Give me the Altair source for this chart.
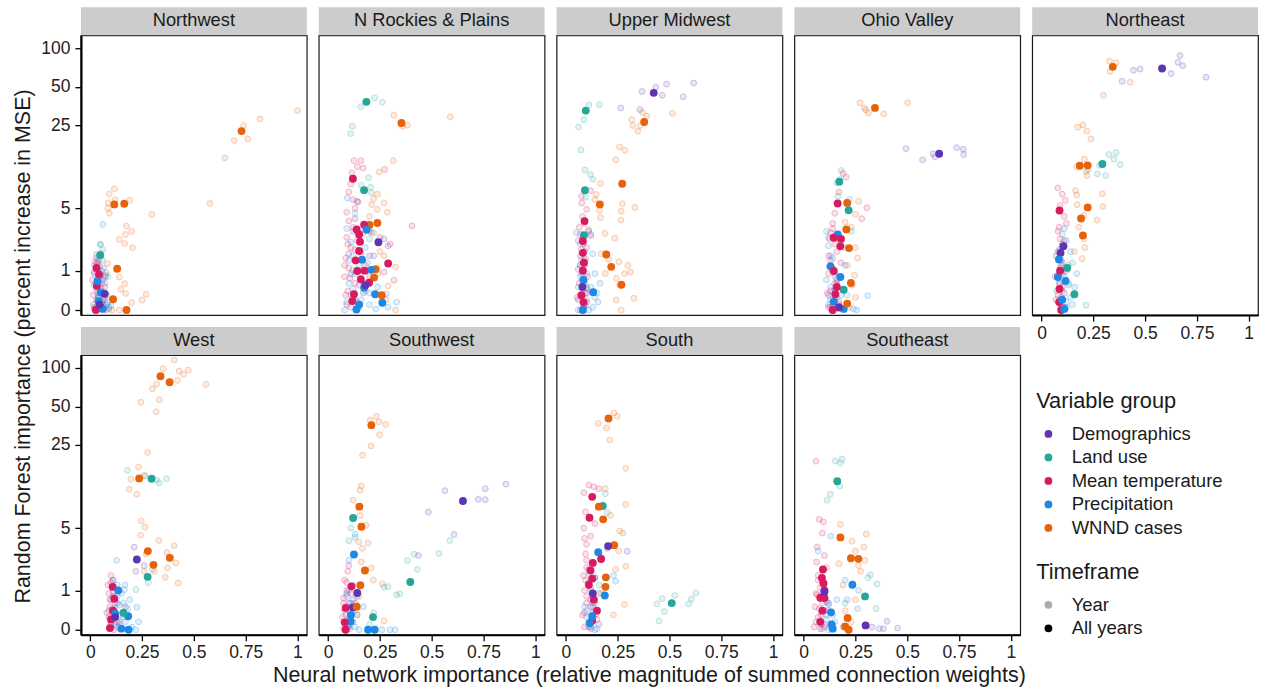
import altair as alt
import pandas as pd

GROUP_NAMES = {"D": "Demographics", "L": "Land use", "T": "Mean temperature",
               "P": "Precipitation", "W": "WNND cases"}
GROUPS = ["Demographics", "Land use", "Mean temperature", "Precipitation", "WNND cases"]
COLORS = ["#5E35B1", "#26A69A", "#D81B60", "#1E88E5", "#E8620C"]
REGIONS = ["Northwest", "N Rockies & Plains", "Upper Midwest", "Ohio Valley", "Northeast",
           "West", "Southwest", "South", "Southeast"]
TIMEFRAMES = ["Year", "All years"]
X_TICKS = [0, 0.25, 0.5, 0.75, 1]
Y_TICKS = [0, 1, 5, 25, 50, 100]
X_TITLE = "Neural network importance (relative magnitude of summed connection weights)"
Y_TITLE = "Random Forest importance (percent increase in MSE)"

# ---------------- Northwest ----------------
NW_ALL = [("W", 0.73, 22.4), ("W", 0.116, 5.43), ("W", 0.164, 5.5), ("W", 0.13, 1.07),
          ("W", 0.11, 0.21), ("W", 0.175, 0.0), ("L", 0.048, 1.63), ("T", 0.03, 1.1),
          ("T", 0.042, 0.87), ("T", 0.032, 0.53), ("T", 0.027, 0.0), ("T", 0.05, 0.05),
          ("P", 0.035, 0.67), ("P", 0.05, 0.36), ("P", 0.04, 0.17), ("P", 0.06, 0.02),
          ("D", 0.07, 0.33), ("D", 0.045, 0.1)]
NW_YEAR = [("W", 1.0, 32.6), ("W", 0.82, 28), ("W", 0.74, 24.8), ("W", 0.76, 19.4),
           ("W", 0.695, 18.8), ("W", 0.65, 13.6), ("W", 0.577, 5.54), ("W", 0.297, 4.39),
           ("W", 0.117, 7.47), ("W", 0.092, 6.75), ("W", 0.087, 5.6), ("W", 0.12, 6.0),
           ("W", 0.19, 5.9), ("W", 0.085, 5.0), ("W", 0.092, 4.5), ("W", 0.175, 3.39),
           ("W", 0.2, 3.0), ("W", 0.17, 2.79), ("W", 0.14, 2.47), ("W", 0.166, 2.23),
           ("W", 0.204, 2.0), ("W", 0.084, 1.27), ("W", 0.14, 0.79), ("W", 0.166, 0.59),
           ("W", 0.148, 0.44), ("W", 0.17, 0.34), ("W", 0.27, 0.32), ("W", 0.25, 0.19),
           ("W", 0.2, 0.14), ("W", 0.14, 0.0), ("W", 0.105, 0.0), ("W", 0.077, 0.93),
           ("P", 0.061, 3.52), ("P", 0.048, 2.18), ("P", 0.03, 1.66), ("P", 0.02, 1.2),
           ("P", 0.06, 1.4), ("P", 0.045, 0.9), ("P", 0.07, 0.6), ("P", 0.03, 0.45),
           ("P", 0.08, 0.3), ("P", 0.055, 0.15), ("P", 0.02, 0.05), ("P", 0.09, 0.02),
           ("P", 0.04, 0.75), ("P", 0.065, 1.1), ("P", 0.1, 0.08),
           ("L", 0.05, 2.18), ("L", 0.06, 1.9), ("L", 0.035, 1.3), ("L", 0.085, 0.8),
           ("L", 0.09, 0.05), ("L", 0.07, 0.2), ("L", 0.025, 0.6),
           ("T", 0.03, 1.5), ("T", 0.02, 0.95), ("T", 0.05, 0.8), ("T", 0.015, 0.3),
           ("T", 0.04, 0.25), ("T", 0.06, 0.1), ("T", 0.02, 0.02), ("T", 0.07, 0.5),
           ("T", 0.035, 1.25),
           ("D", 0.04, 1.4), ("D", 0.06, 0.7), ("D", 0.05, 0.45), ("D", 0.03, 0.2),
           ("D", 0.08, 0.1), ("D", 0.055, 1.0)]
NW_CLUSTER = [("T", 0.025, 1.35), ("T", 0.045, 1.15), ("T", 0.01, 0.7), ("T", 0.055, 0.6),
              ("T", 0.035, 0.35), ("T", 0.06, 0.2), ("T", 0.015, 0.1), ("T", 0.045, 0.02),
              ("T", 0.075, 0.0), ("P", 0.05, 1.7), ("P", 0.035, 1.05), ("P", 0.075, 0.85),
              ("P", 0.02, 0.55), ("P", 0.06, 0.4), ("P", 0.04, 0.28), ("P", 0.085, 0.15),
              ("P", 0.03, 0.0), ("P", 0.07, 0.05), ("D", 0.02, 0.9), ("D", 0.07, 0.8),
              ("D", 0.04, 0.6), ("D", 0.065, 0.25), ("D", 0.03, 0.05)]

# ---------------- N Rockies & Plains ----------------
NR_ALL = [("L", 0.185, 38.2), ("W", 0.354, 26), ("T", 0.12, 9.1), ("L", 0.174, 7.27),
          ("W", 0.238, 3.63), ("W", 0.2, 3.47), ("T", 0.174, 3.5), ("T", 0.138, 3.14),
          ("P", 0.186, 3.12), ("T", 0.15, 2.79), ("T", 0.154, 2.33), ("D", 0.243, 2.3),
          ("T", 0.15, 1.83), ("T", 0.29, 1.27), ("P", 0.164, 1.43), ("T", 0.133, 1.4),
          ("W", 0.23, 1.05), ("T", 0.141, 0.99), ("T", 0.177, 1.0), ("P", 0.209, 1.03),
          ("W", 0.222, 0.77), ("T", 0.158, 0.72), ("T", 0.198, 0.62), ("P", 0.174, 0.48),
          ("P", 0.227, 0.32), ("W", 0.259, 0.30), ("P", 0.262, 0.138), ("T", 0.125, 0.32),
          ("T", 0.117, 0.17), ("P", 0.137, 0.01), ("P", 0.15, 0.1), ("D", 0.18, 0.55)]
NR_YEAR = [("L", 0.225, 41), ("L", 0.262, 38), ("L", 0.158, 35), ("L", 0.117, 24.5),
           ("L", 0.109, 21.4), ("L", 0.196, 9.3), ("L", 0.206, 7.7), ("L", 0.209, 6.9),
           ("L", 0.16, 8.0), ("L", 0.13, 4.5), ("L", 0.2, 2.5), ("L", 0.12, 1.0), ("L", 0.18, 0.4),
           ("W", 0.318, 30), ("W", 0.383, 25), ("W", 0.36, 24.5), ("W", 0.59, 29.1),
           ("W", 0.315, 12.9), ("W", 0.246, 10.4), ("W", 0.238, 6.7), ("W", 0.219, 6.1),
           ("W", 0.27, 5.6), ("W", 0.21, 5.4), ("W", 0.238, 4.9), ("W", 0.286, 4.6),
           ("W", 0.2, 4.2), ("W", 0.326, 1.13), ("W", 0.29, 0.53), ("W", 0.326, 0.0),
           ("W", 0.25, 1.8), ("W", 0.22, 2.9), ("W", 0.27, 1.6), ("W", 0.24, 0.9),
           ("W", 0.28, 0.2), ("W", 0.2, 0.6),
           ("T", 0.125, 12.9), ("T", 0.158, 12.9), ("T", 0.141, 11.5), ("T", 0.115, 10.2),
           ("T", 0.169, 11.2), ("T", 0.273, 10.9), ("T", 0.109, 8.2), ("T", 0.12, 6.0),
           ("T", 0.145, 5.7), ("T", 0.405, 3.4), ("T", 0.3, 2.2), ("T", 0.318, 0.69),
           ("T", 0.1, 3.8), ("T", 0.09, 2.6), ("T", 0.11, 2.0), ("T", 0.085, 1.5),
           ("T", 0.1, 1.1), ("T", 0.08, 0.8), ("T", 0.13, 0.6), ("T", 0.095, 0.4),
           ("T", 0.12, 0.25), ("T", 0.09, 0.1), ("T", 0.14, 2.4), ("T", 0.16, 1.7),
           ("T", 0.2, 3.0), ("T", 0.25, 2.6), ("T", 0.27, 0.95),
           ("P", 0.093, 6.2), ("P", 0.21, 2.9), ("P", 0.28, 0.33), ("P", 0.331, 0.15),
           ("P", 0.29, 0.05), ("P", 0.08, 0.0), ("P", 0.11, 0.3), ("P", 0.13, 0.9),
           ("P", 0.1, 0.6), ("P", 0.16, 0.2), ("P", 0.2, 0.1), ("P", 0.12, 1.6),
           ("P", 0.15, 0.05), ("P", 0.24, 0.5), ("P", 0.19, 1.3),
           ("D", 0.14, 5.8), ("D", 0.13, 4.0), ("D", 0.27, 2.5), ("D", 0.29, 2.1),
           ("D", 0.22, 1.6), ("D", 0.11, 0.9), ("D", 0.17, 0.35)]
NR_CLUSTER = [("T", 0.1, 7.0), ("T", 0.13, 5.0), ("T", 0.09, 4.6), ("T", 0.12, 3.3),
              ("T", 0.17, 2.9), ("T", 0.095, 2.2), ("T", 0.13, 1.9), ("T", 0.08, 1.2),
              ("T", 0.105, 0.75), ("T", 0.15, 0.55), ("T", 0.085, 0.3), ("T", 0.11, 0.05),
              ("T", 0.14, 0.15), ("T", 0.18, 1.2), ("T", 0.2, 0.8),
              ("P", 0.09, 3.2), ("P", 0.11, 2.3), ("P", 0.15, 1.2), ("P", 0.12, 0.45),
              ("P", 0.17, 0.6), ("P", 0.14, 0.02), ("P", 0.09, 0.15), ("P", 0.2, 0.35),
              ("P", 0.23, 0.02), ("P", 0.1, 1.4), ("P", 0.18, 2.0),
              ("D", 0.12, 3.0), ("D", 0.1, 1.7), ("D", 0.16, 1.0), ("D", 0.13, 0.2),
              ("D", 0.2, 1.6)]

# ---------------- Upper Midwest ----------------
UM_ALL = [("D", 0.424, 44.9), ("L", 0.096, 32.6), ("W", 0.378, 26.5), ("L", 0.092, 7.27),
          ("W", 0.272, 8.25), ("W", 0.164, 5.43), ("T", 0.09, 3.79), ("L", 0.087, 2.74),
          ("T", 0.082, 2.37), ("T", 0.082, 1.74), ("T", 0.087, 1.3), ("W", 0.195, 1.66),
          ("W", 0.219, 1.14), ("W", 0.268, 0.56), ("T", 0.082, 1.0), ("P", 0.132, 0.37),
          ("T", 0.075, 0.3), ("T", 0.085, 0.15), ("P", 0.082, 0.0), ("P", 0.085, 0.7),
          ("D", 0.08, 0.5)]
UM_YEAR = [("D", 0.368, 46), ("D", 0.486, 52.5), ("D", 0.617, 53.6), ("D", 0.434, 49.9),
           ("D", 0.465, 43), ("D", 0.566, 41.8), ("D", 0.265, 34.2), ("D", 0.357, 33.2),
           ("D", 0.07, 1.2), ("D", 0.09, 0.6), ("D", 0.06, 0.2),
           ("L", 0.111, 36.1), ("L", 0.162, 36.3), ("L", 0.087, 27.6), ("L", 0.061, 24.1),
           ("L", 0.072, 15.8), ("L", 0.092, 10.8), ("L", 0.119, 9.9), ("L", 0.13, 9.0),
           ("L", 0.095, 6.3), ("L", 0.11, 3.0), ("L", 0.075, 1.4), ("L", 0.1, 0.5),
           ("W", 0.37, 31.5), ("W", 0.39, 29.5), ("W", 0.514, 31), ("W", 0.318, 27.6),
           ("W", 0.323, 24.8), ("W", 0.36, 24.8), ("W", 0.347, 22.4), ("W", 0.259, 16.7),
           ("W", 0.285, 15.7), ("W", 0.241, 13.1), ("W", 0.167, 8.3), ("W", 0.146, 6.66),
           ("W", 0.14, 6.0), ("W", 0.162, 4.8), ("W", 0.273, 5.5), ("W", 0.267, 4.7),
           ("W", 0.333, 5.1), ("W", 0.167, 4.1), ("W", 0.265, 3.87), ("W", 0.188, 2.86),
           ("W", 0.236, 2.55), ("W", 0.17, 1.7), ("W", 0.207, 1.44), ("W", 0.256, 1.34),
           ("W", 0.299, 1.19), ("W", 0.312, 0.95), ("W", 0.283, 0.9), ("W", 0.19, 0.9),
           ("W", 0.244, 0.75), ("W", 0.26, 0.55), ("W", 0.328, 0.23), ("W", 0.243, 0.19),
           ("W", 0.267, 0.0),
           ("T", 0.119, 7.2), ("T", 0.075, 6.4), ("T", 0.077, 5.6), ("T", 0.1, 4.9),
           ("T", 0.065, 3.3), ("T", 0.11, 3.1), ("T", 0.06, 2.4), ("T", 0.1, 2.0),
           ("T", 0.07, 1.6), ("T", 0.095, 1.45), ("T", 0.06, 1.05), ("T", 0.105, 0.8),
           ("T", 0.065, 0.6), ("T", 0.1, 0.45), ("T", 0.055, 0.25), ("T", 0.09, 0.1),
           ("T", 0.07, 0.0), ("T", 0.12, 2.7),
           ("P", 0.05, 2.9), ("P", 0.12, 2.8), ("P", 0.13, 1.7), ("P", 0.07, 1.2),
           ("P", 0.14, 0.9), ("P", 0.165, 0.6), ("P", 0.15, 0.35), ("P", 0.06, 0.5),
           ("P", 0.1, 0.2), ("P", 0.13, 0.05), ("P", 0.06, 0.0), ("P", 0.11, 0.0),
           ("P", 0.155, 0.15)]
UM_CLUSTER = [("T", 0.08, 4.2), ("T", 0.09, 3.6), ("T", 0.07, 2.8), ("T", 0.085, 2.2),
              ("T", 0.075, 1.9), ("T", 0.09, 1.2), ("T", 0.08, 0.7), ("T", 0.095, 0.35),
              ("T", 0.085, 0.05), ("T", 0.1, 0.15),
              ("P", 0.07, 2.2), ("P", 0.09, 1.4), ("P", 0.1, 0.9), ("P", 0.12, 0.5),
              ("P", 0.08, 0.3), ("P", 0.095, 0.08), ("P", 0.14, 0.25), ("P", 0.07, 0.8),
              ("D", 0.08, 2.5), ("D", 0.09, 1.8), ("D", 0.075, 0.9), ("D", 0.1, 0.35),
              ("D", 0.085, 0.05)]

# ---------------- Ohio Valley ----------------
OV_ALL = [("W", 0.344, 34.2), ("D", 0.654, 14.7), ("L", 0.172, 8.6), ("T", 0.164, 5.54),
          ("W", 0.21, 5.6), ("L", 0.217, 4.8), ("W", 0.206, 3.14), ("P", 0.164, 2.79),
          ("T", 0.145, 2.57), ("T", 0.18, 2.5), ("T", 0.177, 2.07), ("W", 0.219, 1.98),
          ("P", 0.129, 1.16), ("T", 0.145, 0.99), ("P", 0.177, 0.79), ("W", 0.228, 0.61),
          ("L", 0.193, 0.43), ("T", 0.16, 0.5), ("T", 0.153, 0.32), ("P", 0.145, 0.16),
          ("P", 0.193, 0.02), ("D", 0.17, 0.05), ("T", 0.14, 0.0), ("W", 0.21, 0.12)]
OV_YEAR = [("W", 0.272, 37.5), ("W", 0.293, 34.2), ("W", 0.312, 31.2), ("W", 0.386, 30.7),
           ("W", 0.502, 37.5), ("W", 0.3, 33), ("W", 0.265, 5.8), ("W", 0.25, 4.4),
           ("W", 0.2, 3.7), ("W", 0.23, 3.3), ("W", 0.25, 2.0), ("W", 0.26, 1.5),
           ("W", 0.21, 1.2), ("W", 0.245, 0.85), ("W", 0.235, 0.55), ("W", 0.25, 0.25),
           ("W", 0.22, 0.05),
           ("D", 0.494, 16.2), ("D", 0.574, 13.1), ("D", 0.624, 14.7), ("D", 0.633, 13.9),
           ("D", 0.738, 16.5), ("D", 0.77, 16), ("D", 0.772, 14.5), ("D", 0.16, 0.6),
           ("D", 0.13, 0.2),
           ("L", 0.181, 10.7), ("L", 0.175, 9.0), ("L", 0.16, 8.4), ("L", 0.22, 6.0),
           ("L", 0.23, 3.0), ("L", 0.2, 2.0), ("L", 0.165, 6.4), ("L", 0.15, 0.9),
           ("L", 0.21, 0.3),
           ("T", 0.19, 10.1), ("T", 0.205, 9.4), ("T", 0.17, 7.0), ("T", 0.305, 5.06),
           ("T", 0.28, 4.0), ("T", 0.15, 4.5), ("T", 0.14, 3.2), ("T", 0.125, 2.5),
           ("T", 0.16, 1.8), ("T", 0.13, 1.4), ("T", 0.18, 1.3), ("T", 0.12, 0.9),
           ("T", 0.15, 0.6), ("T", 0.115, 0.35), ("T", 0.17, 0.15), ("T", 0.13, 0.05),
           ("P", 0.309, 0.29), ("P", 0.255, 0.0), ("P", 0.11, 3.0), ("P", 0.12, 2.1),
           ("P", 0.13, 1.6), ("P", 0.2, 1.2), ("P", 0.15, 0.45), ("P", 0.12, 0.1),
           ("P", 0.18, 0.3), ("P", 0.14, 1.0), ("P", 0.24, 0.02)]
OV_CLUSTER = [("T", 0.14, 3.6), ("T", 0.13, 2.9), ("T", 0.15, 2.2), ("T", 0.12, 1.6),
              ("T", 0.14, 1.1), ("T", 0.16, 0.7), ("T", 0.13, 0.4), ("T", 0.15, 0.2),
              ("T", 0.12, 0.05), ("T", 0.17, 0.1),
              ("P", 0.12, 2.6), ("P", 0.14, 1.5), ("P", 0.15, 0.8), ("P", 0.13, 0.5),
              ("P", 0.16, 0.25), ("P", 0.14, 0.05), ("P", 0.11, 0.7), ("P", 0.17, 0.02),
              ("D", 0.13, 1.2), ("D", 0.15, 0.4), ("D", 0.14, 0.1), ("D", 0.12, 0.3)]

# ---------------- Northeast ----------------
NE_ALL = [("W", 0.344, 71.6), ("D", 0.582, 69.5), ("W", 0.185, 11.7), ("W", 0.223, 11.8),
          ("L", 0.294, 12.1), ("T", 0.087, 4.78), ("W", 0.223, 5.1), ("W", 0.191, 4.02),
          ("W", 0.2, 2.72), ("D", 0.106, 2.08), ("D", 0.092, 1.74), ("P", 0.084, 1.44),
          ("L", 0.124, 1.1), ("P", 0.079, 0.79), ("P", 0.116, 0.67), ("T", 0.087, 0.45),
          ("L", 0.159, 0.32), ("T", 0.085, 0.15), ("T", 0.095, 0.0), ("P", 0.1, 0.2),
          ("P", 0.11, 0.02), ("T", 0.09, 1.0)]
NE_YEAR = [("W", 0.328, 79.5), ("W", 0.36, 77), ("W", 0.33, 66), ("W", 0.428, 54.4),
           ("W", 0.299, 43), ("W", 0.175, 24.1), ("W", 0.2, 25.1), ("W", 0.219, 22.4),
           ("W", 0.238, 19.4), ("W", 0.207, 13.3), ("W", 0.17, 11.5), ("W", 0.215, 10.5),
           ("W", 0.22, 9.7), ("W", 0.164, 7.2), ("W", 0.17, 6.6), ("W", 0.294, 6.75),
           ("W", 0.172, 5.4), ("W", 0.296, 5.2), ("W", 0.205, 4.3), ("W", 0.268, 3.87),
           ("W", 0.18, 3.3), ("W", 0.205, 2.5), ("W", 0.209, 2.0), ("W", 0.159, 1.8),
           ("W", 0.196, 1.47),
           ("D", 0.669, 87.6), ("D", 0.659, 77.6), ("D", 0.682, 73), ("D", 0.444, 67.4),
           ("D", 0.476, 68.8), ("D", 0.625, 63.5), ("D", 0.389, 55.3), ("D", 0.794, 59.5),
           ("D", 0.11, 2.4), ("D", 0.1, 1.3), ("D", 0.085, 0.6),
           ("L", 0.325, 14.5), ("L", 0.36, 15), ("L", 0.35, 13.3), ("L", 0.38, 12),
           ("L", 0.28, 11.8), ("L", 0.27, 10.0), ("L", 0.31, 9.7), ("L", 0.225, 10.9),
           ("L", 0.15, 1.3), ("L", 0.13, 0.55), ("L", 0.215, 0.09), ("L", 0.1, 2.8),
           ("T", 0.079, 7.6), ("T", 0.1, 6.7), ("T", 0.115, 5.9), ("T", 0.09, 5.3),
           ("T", 0.11, 4.2), ("T", 0.12, 3.6), ("T", 0.08, 3.0), ("T", 0.1, 2.2),
           ("T", 0.07, 1.6), ("T", 0.095, 1.2), ("T", 0.065, 0.8), ("T", 0.1, 0.5),
           ("T", 0.07, 0.2), ("T", 0.1, 0.05), ("T", 0.12, 1.0),
           ("P", 0.11, 3.2), ("P", 0.12, 2.4), ("P", 0.14, 1.8), ("P", 0.13, 1.2),
           ("P", 0.17, 0.9), ("P", 0.16, 0.5), ("P", 0.14, 0.25), ("P", 0.12, 0.05),
           ("P", 0.075, 0.4), ("P", 0.085, 1.9), ("P", 0.15, 0.1)]
NE_CLUSTER = [("T", 0.085, 3.3), ("T", 0.09, 2.5), ("T", 0.08, 1.8), ("T", 0.095, 1.4),
              ("T", 0.085, 0.95), ("T", 0.09, 0.6), ("T", 0.08, 0.3), ("T", 0.09, 0.1),
              ("T", 0.1, 0.0), ("T", 0.11, 0.35),
              ("P", 0.1, 2.0), ("P", 0.09, 1.1), ("P", 0.11, 0.8), ("P", 0.1, 0.4),
              ("P", 0.12, 0.15), ("P", 0.095, 0.02), ("P", 0.13, 0.6),
              ("D", 0.09, 1.6), ("D", 0.1, 0.9), ("D", 0.095, 0.25), ("D", 0.11, 0.05)]

# ---------------- West ----------------
WE_ALL = [("W", 0.339, 86.1), ("W", 0.383, 77.3), ("W", 0.236, 13.4), ("L", 0.296, 13.3),
          ("W", 0.278, 3.0), ("D", 0.225, 2.45), ("W", 0.384, 2.55), ("W", 0.305, 2.14),
          ("L", 0.277, 1.54), ("T", 0.108, 1.13), ("P", 0.135, 1.0), ("T", 0.116, 0.73),
          ("T", 0.11, 0.4), ("T", 0.1, 0.2), ("T", 0.095, 0.03), ("P", 0.12, 0.33),
          ("P", 0.183, 0.27), ("P", 0.185, 0.0), ("P", 0.15, 0.02), ("L", 0.16, 0.35),
          ("D", 0.12, 0.25)]
WE_YEAR = [("W", 0.405, 115), ("W", 0.352, 98.4), ("W", 0.429, 94.5), ("W", 0.473, 96),
           ("W", 0.45, 89), ("W", 0.421, 80), ("W", 0.558, 74.4), ("W", 0.32, 75),
           ("W", 0.3, 69), ("W", 0.334, 56.6), ("W", 0.244, 54), ("W", 0.318, 45.6),
           ("W", 0.277, 21.7), ("W", 0.233, 16.6), ("W", 0.196, 13.2), ("W", 0.26, 14.2),
           ("W", 0.188, 10.9), ("W", 0.225, 9.9), ("W", 0.246, 5.8), ("W", 0.264, 5.1),
           ("W", 0.243, 4.3), ("W", 0.331, 3.82), ("W", 0.405, 3.4), ("W", 0.27, 2.8),
           ("W", 0.37, 2.9), ("W", 0.413, 2.25), ("W", 0.373, 1.97), ("W", 0.362, 1.52),
           ("W", 0.424, 1.28), ("W", 0.26, 1.8), ("W", 0.31, 1.8),
           ("L", 0.18, 15.6), ("L", 0.265, 14.0), ("L", 0.333, 12.3), ("L", 0.368, 13.3),
           ("L", 0.32, 13.0), ("L", 0.22, 1.03), ("L", 0.28, 1.3), ("L", 0.3, 1.9),
           ("L", 0.16, 0.6), ("L", 0.14, 0.1),
           ("D", 0.212, 3.29), ("D", 0.26, 2.1), ("D", 0.22, 1.8), ("D", 0.17, 0.5),
           ("D", 0.14, 0.15),
           ("P", 0.127, 2.39), ("P", 0.167, 1.2), ("P", 0.165, 1.03), ("P", 0.225, 0.49),
           ("P", 0.233, 0.15), ("P", 0.22, 0.0), ("P", 0.1, 0.7), ("P", 0.14, 0.55),
           ("P", 0.12, 0.1), ("P", 0.2, 0.05), ("P", 0.16, 0.25), ("P", 0.09, 0.4),
           ("P", 0.15, 0.9), ("P", 0.19, 0.7), ("P", 0.13, 1.2),
           ("T", 0.1, 1.6), ("T", 0.11, 1.4), ("T", 0.085, 1.2), ("T", 0.09, 0.9),
           ("T", 0.12, 0.6), ("T", 0.08, 0.35), ("T", 0.1, 0.05), ("T", 0.13, 0.15),
           ("T", 0.095, 0.5)]
WE_CLUSTER = [("T", 0.1, 1.3), ("T", 0.11, 0.95), ("T", 0.095, 0.7), ("T", 0.105, 0.45),
              ("T", 0.09, 0.25), ("T", 0.1, 0.1), ("T", 0.115, 0.0), ("T", 0.12, 0.3),
              ("P", 0.11, 1.4), ("P", 0.13, 0.8), ("P", 0.12, 0.45), ("P", 0.15, 0.3),
              ("P", 0.13, 0.05), ("P", 0.17, 0.15), ("P", 0.1, 0.2), ("P", 0.18, 0.45),
              ("D", 0.11, 0.8), ("D", 0.12, 0.35), ("D", 0.1, 0.1), ("D", 0.13, 0.6)]

# ---------------- Southwest ----------------
SW_ALL = [("W", 0.209, 35.8), ("D", 0.651, 8.67), ("W", 0.151, 7.75), ("L", 0.121, 6.16),
          ("W", 0.161, 5.14), ("P", 0.125, 2.77), ("W", 0.178, 1.84), ("L", 0.397, 1.32),
          ("T", 0.113, 1.15), ("W", 0.156, 1.19), ("D", 0.141, 0.91), ("T", 0.085, 0.47),
          ("D", 0.12, 0.48), ("W", 0.138, 0.5), ("L", 0.217, 0.25), ("P", 0.109, 0.16),
          ("T", 0.08, 0.14), ("P", 0.193, 0.0), ("P", 0.225, 0.0), ("T", 0.085, 0.0),
          ("P", 0.11, 0.3)]
SW_YEAR = [("W", 0.233, 42.0), ("W", 0.203, 39.2), ("W", 0.245, 38), ("W", 0.278, 36.2),
           ("W", 0.249, 30.0), ("W", 0.207, 24.5), ("W", 0.166, 20.7), ("W", 0.161, 11.6),
           ("W", 0.155, 10.7), ("W", 0.121, 8.8), ("W", 0.155, 6.5), ("W", 0.183, 5.3),
           ("W", 0.193, 3.6), ("W", 0.148, 3.7), ("W", 0.165, 3.2), ("W", 0.209, 1.97),
           ("W", 0.219, 1.4), ("W", 0.262, 1.25), ("W", 0.16, 2.3), ("W", 0.27, 0.17),
           ("W", 0.15, 0.8), ("W", 0.14, 0.3),
           ("D", 0.859, 12), ("D", 0.759, 11.0), ("D", 0.564, 10.6), ("D", 0.725, 8.96),
           ("D", 0.759, 8.9), ("D", 0.484, 6.95), ("D", 0.608, 4.36), ("D", 0.436, 2.7),
           ("D", 0.12, 0.7), ("D", 0.1, 0.2),
           ("L", 0.588, 3.82), ("L", 0.535, 2.83), ("L", 0.416, 2.78), ("L", 0.383, 2.39),
           ("L", 0.431, 1.9), ("L", 0.289, 1.14), ("L", 0.27, 1.12), ("L", 0.346, 0.89),
           ("L", 0.33, 0.85), ("L", 0.1, 3.8), ("L", 0.13, 4.4), ("L", 0.11, 5.0),
           ("L", 0.22, 0.35), ("L", 0.2, 0.1),
           ("P", 0.299, 0.0), ("P", 0.323, 0.0), ("P", 0.26, 0.0), ("P", 0.17, 0.5),
           ("P", 0.1, 2.4), ("P", 0.13, 4.1), ("P", 0.12, 1.2), ("P", 0.09, 0.8),
           ("P", 0.14, 0.3), ("P", 0.1, 0.05), ("P", 0.15, 0.0), ("P", 0.08, 0.4),
           ("T", 0.1, 2.1), ("T", 0.095, 1.8), ("T", 0.075, 0.6), ("T", 0.09, 1.3),
           ("T", 0.11, 0.9), ("T", 0.07, 0.25), ("T", 0.1, 0.08), ("T", 0.13, 0.6),
           ("T", 0.08, 0.0)]
SW_CLUSTER = [("T", 0.08, 1.4), ("T", 0.09, 1.0), ("T", 0.075, 0.75), ("T", 0.1, 0.5),
              ("T", 0.085, 0.3), ("T", 0.09, 0.1), ("T", 0.075, 0.02), ("T", 0.11, 0.2),
              ("P", 0.1, 1.0), ("P", 0.11, 0.6), ("P", 0.12, 0.35), ("P", 0.09, 0.15),
              ("P", 0.13, 0.05), ("P", 0.105, 0.02), ("P", 0.14, 0.8),
              ("D", 0.09, 0.9), ("D", 0.1, 0.6), ("D", 0.11, 0.3), ("D", 0.095, 0.05),
              ("D", 0.12, 0.15)]

# ---------------- South ----------------
SO_ALL = [("W", 0.206, 40.4), ("T", 0.127, 9.4), ("L", 0.178, 7.85), ("W", 0.159, 7.75),
          ("T", 0.114, 6.2), ("W", 0.18, 6.0), ("W", 0.233, 3.44), ("D", 0.204, 3.37),
          ("P", 0.156, 2.92), ("T", 0.17, 2.48), ("T", 0.13, 2.25), ("T", 0.119, 1.84),
          ("W", 0.193, 1.52), ("T", 0.127, 1.46), ("W", 0.191, 1.13), ("T", 0.111, 1.21),
          ("P", 0.188, 0.83), ("L", 0.511, 0.6), ("T", 0.135, 0.7), ("T", 0.15, 0.4),
          ("T", 0.127, 0.17), ("P", 0.127, 0.27), ("P", 0.115, 0.12), ("D", 0.13, 0.9)]
SO_YEAR = [("W", 0.232, 44.6), ("W", 0.248, 42), ("W", 0.156, 37), ("W", 0.196, 34.0),
           ("W", 0.212, 27.3), ("W", 0.289, 16.2), ("W", 0.19, 11.0), ("W", 0.288, 8.1),
           ("W", 0.215, 6.5), ("W", 0.26, 4.7), ("W", 0.275, 4.5), ("W", 0.255, 3.0),
           ("W", 0.289, 2.06), ("W", 0.24, 1.9), ("W", 0.283, 0.56), ("W", 0.23, 0.3),
           ("W", 0.17, 0.9),
           ("T", 0.111, 11.8), ("T", 0.087, 10.2), ("T", 0.135, 11.4), ("T", 0.16, 11.0),
           ("T", 0.095, 7.0), ("T", 0.087, 5.0), ("T", 0.09, 4.0), ("T", 0.1, 3.5),
           ("T", 0.095, 2.8), ("T", 0.1, 2.0), ("T", 0.085, 1.6), ("T", 0.09, 1.0),
           ("T", 0.1, 0.6), ("T", 0.08, 0.3), ("T", 0.09, 0.05), ("T", 0.14, 5.5),
           ("T", 0.12, 4.2), ("T", 0.13, 0.8), ("T", 0.15, 0.2),
           ("D", 0.296, 2.99), ("D", 0.2, 3.2), ("D", 0.14, 1.5), ("D", 0.12, 0.5),
           ("D", 0.16, 0.1),
           ("L", 0.627, 0.91), ("L", 0.606, 0.72), ("L", 0.593, 0.58), ("L", 0.526, 0.83),
           ("L", 0.465, 0.73), ("L", 0.439, 0.58), ("L", 0.476, 0.38), ("L", 0.45, 0.17),
           ("L", 0.19, 10.0), ("L", 0.2, 6.9), ("L", 0.16, 1.2),
           ("P", 0.23, 1.6), ("P", 0.24, 1.35), ("P", 0.16, 0.9), ("P", 0.1, 0.4),
           ("P", 0.14, 0.6), ("P", 0.12, 0.05), ("P", 0.17, 2.6), ("P", 0.11, 1.3),
           ("P", 0.15, 0.02)]
SO_CLUSTER = [("T", 0.1, 2.4), ("T", 0.11, 1.9), ("T", 0.095, 1.4), ("T", 0.12, 1.1),
              ("T", 0.1, 0.8), ("T", 0.13, 0.5), ("T", 0.09, 0.35), ("T", 0.11, 0.15),
              ("T", 0.12, 0.02), ("T", 0.14, 0.3),
              ("P", 0.11, 1.7), ("P", 0.12, 1.0), ("P", 0.13, 0.6), ("P", 0.1, 0.25),
              ("P", 0.12, 0.1), ("P", 0.14, 0.0), ("P", 0.09, 0.5),
              ("D", 0.11, 1.2), ("D", 0.12, 0.7), ("D", 0.13, 0.35), ("D", 0.11, 0.05),
              ("D", 0.14, 1.5)]

# ---------------- Southeast ----------------
SE_ALL = [("L", 0.162, 12.7), ("W", 0.177, 4.09), ("W", 0.228, 2.53), ("W", 0.264, 2.49),
          ("T", 0.093, 1.89), ("T", 0.088, 1.49), ("T", 0.096, 1.26), ("P", 0.235, 1.21),
          ("L", 0.296, 0.8), ("T", 0.1, 1.0), ("T", 0.1, 0.75), ("T", 0.08, 0.76),
          ("P", 0.132, 0.36), ("W", 0.212, 0.23), ("D", 0.299, 0.08), ("W", 0.2, 0.06),
          ("W", 0.217, 0.0), ("P", 0.135, 0.1), ("P", 0.14, 0.02), ("T", 0.08, 0.15),
          ("D", 0.1, 0.95), ("T", 0.09, 0.4)]
SE_YEAR = [("T", 0.059, 18.5), ("T", 0.075, 6.0), ("T", 0.095, 5.7), ("T", 0.09, 4.5),
           ("T", 0.065, 3.3), ("T", 0.062, 2.3), ("T", 0.07, 1.6), ("T", 0.06, 0.9),
           ("T", 0.1, 2.7), ("T", 0.11, 2.0), ("T", 0.055, 0.5), ("T", 0.07, 0.25),
           ("T", 0.1, 0.1), ("T", 0.12, 0.4), ("T", 0.05, 0.05),
           ("L", 0.153, 18.6), ("L", 0.185, 19.2), ("L", 0.177, 17.9), ("L", 0.174, 11.6),
           ("L", 0.129, 9.9), ("L", 0.113, 8.8), ("L", 0.322, 1.64), ("L", 0.31, 1.5),
           ("L", 0.354, 1.24), ("L", 0.35, 0.45), ("L", 0.2, 0.6),
           ("W", 0.177, 5.4), ("W", 0.302, 4.4), ("W", 0.233, 3.76), ("W", 0.29, 3.3),
           ("W", 0.25, 3.0), ("W", 0.295, 2.4), ("W", 0.17, 2.2), ("W", 0.265, 2.1),
           ("W", 0.275, 1.8), ("W", 0.2, 0.4), ("W", 0.25, 0.7), ("W", 0.23, 0.15),
           ("W", 0.19, 1.2),
           ("D", 0.402, 0.16), ("D", 0.453, 0.03), ("D", 0.365, 0.02), ("D", 0.385, 0.02),
           ("D", 0.33, 0.05), ("D", 0.09, 1.3), ("D", 0.12, 0.6),
           ("P", 0.13, 4.2), ("P", 0.07, 3.0), ("P", 0.2, 1.4), ("P", 0.265, 1.0),
           ("P", 0.26, 0.45), ("P", 0.16, 0.7), ("P", 0.11, 0.3), ("P", 0.15, 0.15),
           ("P", 0.19, 0.05), ("P", 0.09, 0.02), ("P", 0.21, 0.7)]
SE_CLUSTER = [("T", 0.07, 1.4), ("T", 0.08, 1.1), ("T", 0.065, 0.85), ("T", 0.09, 0.6),
              ("T", 0.075, 0.45), ("T", 0.085, 0.3), ("T", 0.06, 0.15), ("T", 0.08, 0.02),
              ("T", 0.1, 0.05), ("T", 0.095, 0.8),
              ("P", 0.1, 1.0), ("P", 0.12, 0.55), ("P", 0.11, 0.2), ("P", 0.13, 0.05),
              ("P", 0.09, 0.4), ("P", 0.14, 0.3), ("P", 0.12, 0.0),
              ("D", 0.09, 0.8), ("D", 0.1, 0.4), ("D", 0.085, 0.1), ("D", 0.11, 0.65)]

ALL_YEARS = dict(zip(REGIONS, [NW_ALL, NR_ALL, UM_ALL, OV_ALL, NE_ALL,
                               WE_ALL, SW_ALL, SO_ALL, SE_ALL]))
YEARLY = dict(zip(REGIONS, [NW_YEAR + NW_CLUSTER, NR_YEAR + NR_CLUSTER, UM_YEAR + UM_CLUSTER,
                            OV_YEAR + OV_CLUSTER, NE_YEAR + NE_CLUSTER, WE_YEAR + WE_CLUSTER,
                            SW_YEAR + SW_CLUSTER, SO_YEAR + SO_CLUSTER, SE_YEAR + SE_CLUSTER]))

rows = []
for reg in REGIONS:
    for code, xv, yv in YEARLY[reg]:
        rows.append({"region": reg, "group": GROUP_NAMES[code], "timeframe": "Year",
                     "nn": xv, "rf": yv})
    for code, xv, yv in ALL_YEARS[reg]:
        rows.append({"region": reg, "group": GROUP_NAMES[code], "timeframe": "All years",
                     "nn": xv, "rf": yv})
df = pd.DataFrame(rows)

FONT = "Liberation Sans"
TXT = "#1a1a1a"
PW, PH = 226, 280

color_scale = alt.Scale(domain=GROUPS, range=COLORS)
op_scale = alt.Scale(domain=TIMEFRAMES, range=[0.33, 1])
x_scale = alt.Scale(domain=[-0.045, 1.045], nice=False, zero=False)
y_scale = alt.Scale(type="symlog", constant=1, domain=[-0.092, 125.7], nice=False, zero=False)

LEG_X = 956
color_legend = alt.Legend(title="Variable group", orient="none", legendX=LEG_X, legendY=356,
                          titleFontSize=21.8, labelFontSize=18.5, titleFont=FONT, labelFont=FONT,
                          titleFontWeight="normal", titleColor=TXT, labelColor=TXT,
                          symbolType="circle", symbolSize=60, symbolStrokeWidth=0,
                          symbolOpacity=1, symbolOffset=3, rowPadding=4.5, titlePadding=12,
                          labelOffset=14)
op_legend = alt.Legend(title="Timeframe", orient="none", legendX=LEG_X, legendY=527,
                       titleFontSize=21.8, labelFontSize=18.5, titleFont=FONT, labelFont=FONT,
                       titleFontWeight="normal", titleColor=TXT, labelColor=TXT,
                       symbolType="circle", symbolSize=60, symbolFillColor="black",
                       symbolStrokeColor="black", symbolStrokeWidth=0, symbolOffset=3,
                       rowPadding=4.5, titlePadding=12, labelOffset=14)


def axis_common(**kw):
    return alt.Axis(title=None, grid=False, domainColor="black", domainWidth=2.2,
                    tickColor="black", tickWidth=1.3, tickSize=6, labelFontSize=17.5,
                    labelFont=FONT, labelColor="#222222", labelExpr="'' + datum.value", **kw)


def panel(i, region):
    row, col = divmod(i, 5)
    show_x = row == 1 or col == 4
    show_y = col == 0
    xax = axis_common(values=X_TICKS, labelPadding=3) if show_x else None
    yax = axis_common(values=Y_TICKS, labelPadding=5) if show_y else None
    base = alt.Chart(df).transform_filter(alt.datum.region == region)
    enc = dict(
        x=alt.X("nn:Q", scale=x_scale, axis=xax),
        y=alt.Y("rf:Q", scale=y_scale, axis=yax),
        color=alt.Color("group:N", scale=color_scale, legend=color_legend),
        opacity=alt.Opacity("timeframe:N", scale=op_scale, legend=op_legend),
    )
    year = base.transform_filter(alt.datum.timeframe == "Year").mark_circle(
        size=34, fillOpacity=0.38, strokeWidth=1
    ).encode(stroke=alt.Stroke("group:N", scale=color_scale, legend=None), **enc)
    allyr = base.transform_filter(alt.datum.timeframe == "All years").mark_circle(
        size=62
    ).encode(**enc)
    strip_df = pd.DataFrame({"region": [region]})
    strip = alt.Chart(strip_df).mark_rect(color="#cccccc").encode(
        x=alt.value(0), x2=alt.value(PW), y=alt.value(-28), y2=alt.value(0))
    label = alt.Chart(strip_df).mark_text(font=FONT, fontSize=18.3, color=TXT,
                                          baseline="middle").encode(
        text="region:N", x=alt.value(PW / 2), y=alt.value(-14))
    return alt.layer(strip, label, year, allyr).properties(width=PW, height=PH)


panels = [panel(i, r) for i, r in enumerate(REGIONS)]
grid = alt.concat(*panels, columns=5, spacing={"row": 40, "column": 12},
                  bounds="flush").properties(
    title=alt.TitleParams(X_TITLE, orient="bottom", anchor="middle", fontSize=21.5, font=FONT,
                          fontWeight="normal", color=TXT, offset=3))
chart = alt.hconcat(grid).properties(
    title=alt.TitleParams(Y_TITLE, orient="left", anchor="middle", fontSize=21.5, font=FONT,
                          fontWeight="normal", color=TXT, offset=6),
    padding={"left": 12, "top": 6, "right": 2, "bottom": 2},
    background="white",
).configure_view(stroke="#1a1a1a", strokeWidth=1.2)

chart.save("out.html", embed_options={"renderer": "svg", "actions": False})
